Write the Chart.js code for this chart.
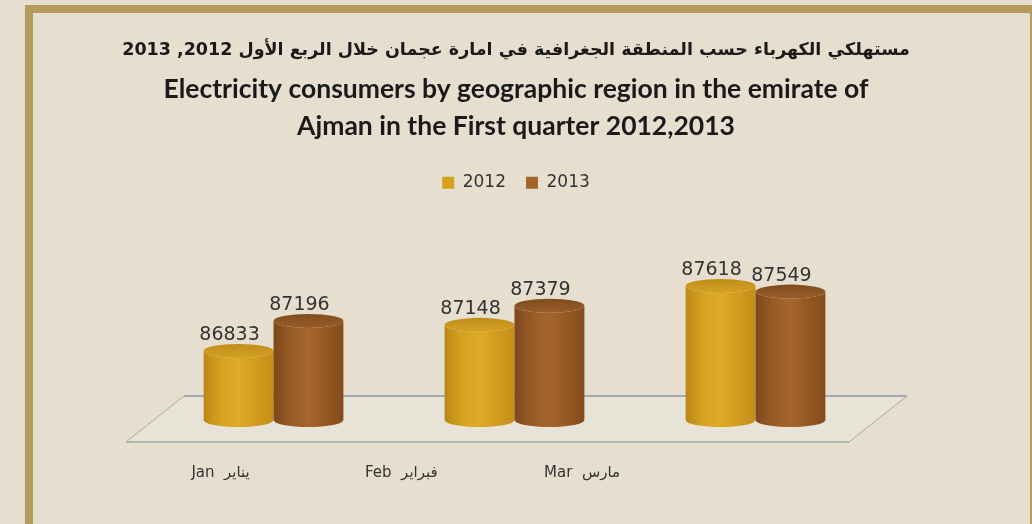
<!DOCTYPE html>
<html>
<head>
<meta charset="utf-8">
<script src="https://cdn.jsdelivr.net/npm/chart.js@4.4.1/dist/chart.umd.min.js"></script>
<style>
  html, body { margin: 0; padding: 0; background: #e6dfcf; }
  #wrap { width: 1032px; height: 524px; position: relative; }
</style>
</head>
<body>
<div id="wrap"><canvas id="c" width="1032" height="524"></canvas></div>
<script>
// ---- data ----
const categories = ['Jan  يناير', 'Feb  فبراير', 'Mar  مارس'];
const seriesNames = ['2012', '2013'];
const values2012 = [86833, 87148, 87618];
const values2013 = [87196, 87379, 87549];
const yMin = 86000;
const yMax = 88640;
const titleArabic = '\u202Bمستهلكي الكهرباء حسب المنطقة الجغرافية في امارة عجمان خلال الربع الأول 2012, 2013\u202C';
const titleEnglish = ['Electricity consumers by geographic region in the emirate of', 'Ajman in the First quarter 2012,2013'];

// ---- styles ----
const legendColors = ['#d4a21f', '#a5642a'];
const bodyGradients = [
  ['#bb8817', '#d6a222', '#deaa28', '#d29c1f', '#c38d19'],
  ['#7e481b', '#985b26', '#a5662c', '#955824', '#844c1d']
];
const topColors = [['#c08d1a', '#d4a125'], ['#804d1e', '#995c27']];
const frameColor = '#b59a5c';
const bgColor = '#e6dfcf';

const framePlugin = {
  id: 'frame',
  beforeDraw(chart) {
    const ctx = chart.ctx;
    ctx.save();
    ctx.fillStyle = bgColor;
    ctx.fillRect(0, 0, chart.width, chart.height);
    ctx.strokeStyle = frameColor;
    ctx.lineWidth = 8;
    ctx.strokeRect(29, 9, 1005, 540);
    ctx.restore();
  }
};

const floorPlugin = {
  id: 'floor',
  beforeDatasetsDraw(chart) {
    const { ctx, chartArea } = chart;
    const b = chartArea.bottom, l = chartArea.left, r = chartArea.right;
    const fy = b + 22, by = b - 24, fdx = -27, bdx = 31;
    ctx.save();
    ctx.beginPath();
    ctx.moveTo(l + fdx, fy);
    ctx.lineTo(l + bdx, by);
    ctx.lineTo(r + bdx, by);
    ctx.lineTo(r + fdx, fy);
    ctx.closePath();
    ctx.fillStyle = '#e8e3d7';
    ctx.fill();
    ctx.lineWidth = 1;
    ctx.strokeStyle = '#a9a9a9';
    ctx.beginPath();
    ctx.moveTo(l + fdx, fy); ctx.lineTo(l + bdx, by);
    ctx.moveTo(r + fdx, fy); ctx.lineTo(r + bdx, by);
    ctx.stroke();
    ctx.lineWidth = 1.5;
    ctx.strokeStyle = '#8e97a2';
    ctx.beginPath();
    ctx.moveTo(l + bdx, by); ctx.lineTo(r + bdx, by);
    ctx.stroke();
    ctx.lineWidth = 2;
    ctx.strokeStyle = '#b4b4b2';
    ctx.beginPath();
    ctx.moveTo(l + fdx, fy); ctx.lineTo(r + fdx, fy);
    ctx.stroke();
    ctx.restore();
  }
};

const cylinderPlugin = {
  id: 'cylinders',
  beforeDatasetDraw() { return false; },
  afterDatasetsDraw(chart) {
    const ctx = chart.ctx;
    const ry = 7;
    ctx.save();
    chart.data.datasets.forEach((ds, di) => {
      const meta = chart.getDatasetMeta(di);
      meta.data.forEach((el, i) => {
        const { x, y, base, width } = el.getProps(['x', 'y', 'base', 'width'], true);
        const rx = width / 2, left = x - rx, right = x + rx;
        const g = ctx.createLinearGradient(left, 0, right, 0);
        const stops = bodyGradients[di];
        stops.forEach((c, k) => g.addColorStop(k / (stops.length - 1), c));
        ctx.beginPath();
        ctx.moveTo(left, y);
        ctx.lineTo(left, base);
        ctx.ellipse(x, base, rx, ry, 0, Math.PI, 0, true);
        ctx.lineTo(right, y);
        ctx.ellipse(x, y, rx, ry, 0, 0, Math.PI, false);
        ctx.closePath();
        ctx.fillStyle = g;
        ctx.fill();
        const tg = ctx.createLinearGradient(0, y - ry, 0, y + ry);
        tg.addColorStop(0, topColors[di][0]);
        tg.addColorStop(1, topColors[di][1]);
        ctx.beginPath();
        ctx.ellipse(x, y, rx, ry, 0, 0, Math.PI * 2);
        ctx.fillStyle = tg;
        ctx.fill();
      });
    });
    // value labels
    ctx.fillStyle = '#333333';
    ctx.font = '19px "DejaVu Sans", sans-serif';
    ctx.textAlign = 'center';
    ctx.textBaseline = 'middle';
    chart.data.datasets.forEach((ds, di) => {
      const meta = chart.getDatasetMeta(di);
      meta.data.forEach((el, i) => {
        const { x, y } = el.getProps(['x', 'y'], true);
        ctx.fillText(String(ds.data[i]), x - 9, y - 16);
      });
    });
    ctx.restore();
  }
};

new Chart(document.getElementById('c'), {
  type: 'bar',
  data: {
    labels: categories,
    datasets: [
      { label: seriesNames[0], data: values2012, backgroundColor: legendColors[0], borderWidth: 0, base: yMin },
      { label: seriesNames[1], data: values2013, backgroundColor: legendColors[1], borderWidth: 0, base: yMin }
    ]
  },
  options: {
    responsive: false,
    animation: false,
    devicePixelRatio: 1,
    layout: { padding: { top: 30, left: 100, right: 100, bottom: 42 } },
    datasets: { bar: { categoryPercentage: 0.58, barPercentage: 1 } },
    scales: {
      x: { display: false },
      y: {
        display: true, min: yMin, max: yMax,
        grid: { display: false }, border: { display: false }, ticks: { display: false },
        afterFit(axis) { axis.width = 53; }
      },
      y2: {
        type: 'linear', position: 'right', display: true, min: yMin, max: yMax,
        grid: { display: false }, border: { display: false }, ticks: { display: false },
        afterFit(axis) { axis.width = 56; }
      },
      x2: {
        type: 'linear',
        position: 'bottom',
        offset: false,
        min: -0.374,
        max: 3.626,
        grid: { display: false, drawTicks: false, offset: false },
        border: { display: false },
        afterBuildTicks(axis) { axis.ticks = categories.map((c, i) => ({ value: i })); },
        afterFit(axis) { axis.height = 62; },
        ticks: {
          autoSkip: false,
          maxRotation: 0,
          padding: 44,
          color: '#333333',
          font: { family: '"DejaVu Sans", sans-serif', size: 15 },
          callback: (v) => categories[v]
        }
      }
    },
    plugins: {
      title: {
        display: true,
        text: titleArabic,
        color: '#1a1a1a',
        font: { family: '"DejaVu Sans", sans-serif', size: 17.5, weight: 'bold', lineHeight: 1.2 },
        padding: { top: 10, bottom: 5 }
      },
      subtitle: {
        display: true,
        text: titleEnglish,
        color: '#1a1a1a',
        font: { family: 'Lato, sans-serif', size: 26.5, weight: 'bold', lineHeight: 1.4 },
        padding: { top: 5, bottom: 9 }
      },
      legend: {
        display: true,
        position: 'top',
        labels: {
          boxWidth: 12,
          boxHeight: 12,
          padding: 20,
          color: '#333333',
          font: { family: '"DejaVu Sans", sans-serif', size: 17 }
        }
      },
      tooltip: { enabled: false }
    }
  },
  plugins: [framePlugin, floorPlugin, cylinderPlugin]
});
</script>
</body>
</html>
